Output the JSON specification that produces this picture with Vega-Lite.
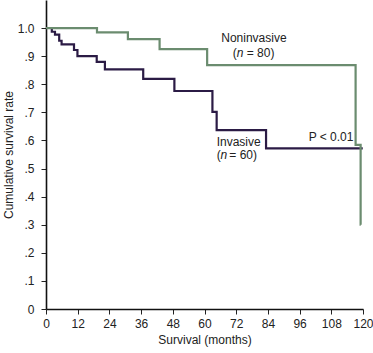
{
  "$schema": "https://vega.github.io/schema/vega-lite/v6.json",
  "autosize": "none",
  "width": 317,
  "height": 309,
  "padding": {"left": 46, "top": 0, "right": 10, "bottom": 44},
  "background": "white",
  "config": {
    "view": {"stroke": null},
    "font": "Liberation Sans",
    "axis": {
      "grid": false,
      "domainColor": "#111111",
      "domainWidth": 1.6,
      "tickColor": "#222222",
      "tickSize": 5,
      "labelFont": "Liberation Sans",
      "labelFontSize": 12,
      "labelColor": "#222222",
      "titleFont": "Liberation Sans",
      "titleFontSize": 12,
      "titleFontWeight": "normal",
      "titleColor": "#222222"
    }
  },
  "datasets": {
    "curves": [
      {"group": "Invasive", "month": 2.2, "survival": 1.0},
      {"group": "Invasive", "month": 2.2, "survival": 0.987},
      {"group": "Invasive", "month": 3.4, "survival": 0.977},
      {"group": "Invasive", "month": 5.0, "survival": 0.955},
      {"group": "Invasive", "month": 5.9, "survival": 0.942},
      {"group": "Invasive", "month": 10.6, "survival": 0.922},
      {"group": "Invasive", "month": 11.9, "survival": 0.900},
      {"group": "Invasive", "month": 19.2, "survival": 0.880},
      {"group": "Invasive", "month": 22.3, "survival": 0.853},
      {"group": "Invasive", "month": 36.8, "survival": 0.819},
      {"group": "Invasive", "month": 48.6, "survival": 0.776},
      {"group": "Invasive", "month": 63.0, "survival": 0.702},
      {"group": "Invasive", "month": 64.6, "survival": 0.637},
      {"group": "Invasive", "month": 83.3, "survival": 0.572},
      {"group": "Invasive", "month": 119.9, "survival": 0.572},
      {"group": "Noninvasive", "month": 0, "survival": 1.0},
      {"group": "Noninvasive", "month": 19.3, "survival": 0.985},
      {"group": "Noninvasive", "month": 31, "survival": 0.961},
      {"group": "Noninvasive", "month": 43, "survival": 0.925},
      {"group": "Noninvasive", "month": 61, "survival": 0.868},
      {"group": "Noninvasive", "month": 117.2, "survival": 0.584},
      {"group": "Noninvasive", "month": 119.1, "survival": 0.30},
      {"group": "Noninvasive", "month": 119.15, "survival": 0.30}
    ],
    "centerLabels": [
      {"label": "Noninvasive", "month": 78.7, "survival": 0.964},
      {"label": "P < 0.01", "month": 107.9, "survival": 0.612}
    ],
    "leftLabels": [
      {"label": "Invasive", "month": 64.6, "survival": 0.594},
      {"label": "(", "month": 70.7, "survival": 0.911},
      {"label": "= 80)", "month": 76.0, "survival": 0.911},
      {"label": "(", "month": 64.6, "survival": 0.548},
      {"label": "= 60)", "month": 69.4, "survival": 0.548}
    ],
    "italicLabels": [
      {"label": "n", "month": 72.2, "survival": 0.911},
      {"label": "n", "month": 66.1, "survival": 0.548}
    ]
  },
  "encoding": {
    "x": {
      "field": "month", "type": "quantitative",
      "scale": {"domain": [0, 120], "nice": false},
      "axis": {"values": [0,12,24,36,48,60,72,84,96,108,120], "labelOverlap": false, "labelFlush": false, "title": "Survival (months)", "labelPadding": 4, "titlePadding": 5}
    },
    "y": {
      "field": "survival", "type": "quantitative",
      "scale": {"domain": [0, 1.1], "nice": false},
      "axis": {
        "values": [0,0.1,0.2,0.3,0.4,0.5,0.6,0.7,0.8,0.9,1.0],
        "labelOverlap": false,
        "labelFlush": false,
        "labelExpr": "datum.value == 1 ? '1.0' : (datum.value == 0 ? '0' : replace(format(datum.value, '.1f'), '0.', '.'))",
        "title": "Cumulative survival rate",
        "labelPadding": 7,
        "titlePadding": 2
      }
    }
  },
  "layer": [
    {
      "data": {"name": "curves"},
      "mark": {"type": "line", "interpolate": "step-after", "strokeWidth": 2.2},
      "encoding": {
        "color": {
          "field": "group", "type": "nominal",
          "scale": {"domain": ["Noninvasive", "Invasive"], "range": ["#6b8c6f", "#2b1b45"]},
          "legend": null
        },
        "order": {"field": "month", "type": "quantitative"}
      }
    },
    {
      "data": {"name": "centerLabels"},
      "mark": {"type": "text", "align": "center", "baseline": "middle", "fontSize": 12, "color": "#222222"},
      "encoding": {"text": {"field": "label"}}
    },
    {
      "data": {"name": "leftLabels"},
      "mark": {"type": "text", "align": "left", "baseline": "middle", "fontSize": 12, "color": "#222222"},
      "encoding": {"text": {"field": "label"}}
    },
    {
      "data": {"name": "italicLabels"},
      "mark": {"type": "text", "align": "left", "baseline": "middle", "fontSize": 12, "fontStyle": "italic", "color": "#222222"},
      "encoding": {"text": {"field": "label"}}
    }
  ]
}
